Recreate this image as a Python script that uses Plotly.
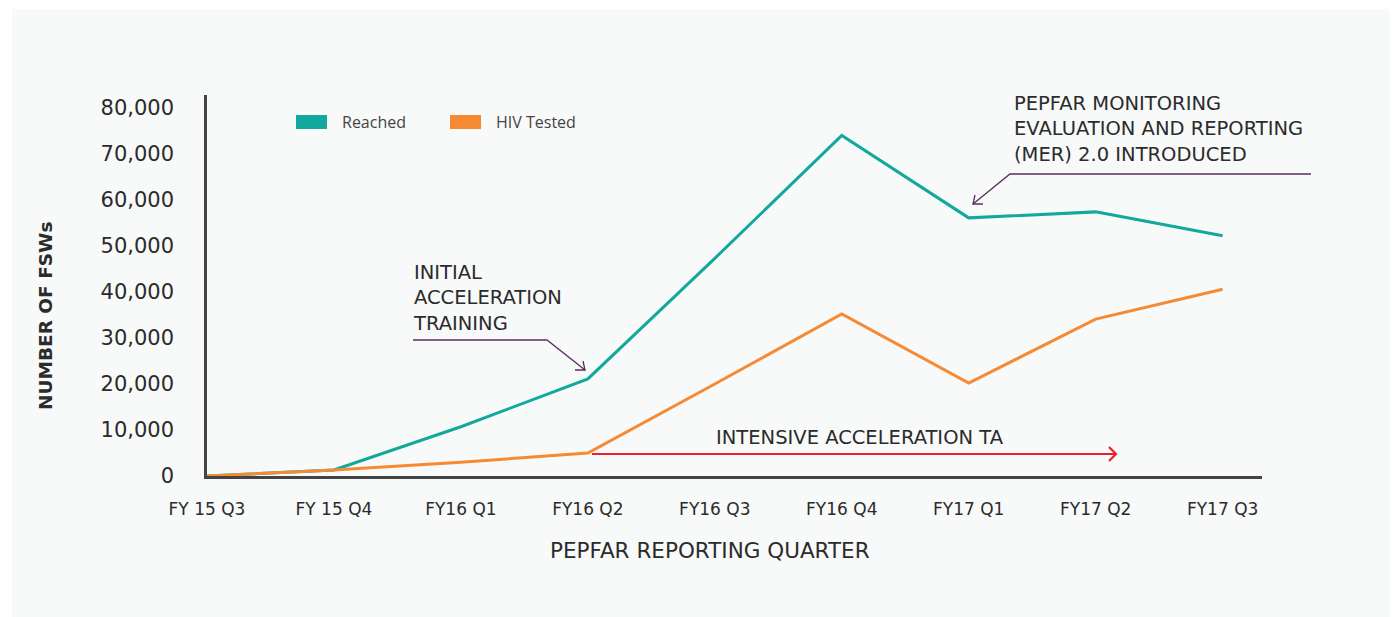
import plotly.graph_objects as go

quarters = ["FY 15 Q3", "FY 15 Q4", "FY16 Q1", "FY16 Q2", "FY16 Q3",
            "FY16 Q4", "FY17 Q1", "FY17 Q2", "FY17 Q3"]
reached = [0, 1300, 10700, 21100, 47300, 74000, 56100, 57400, 52200]
hiv_tested = [0, 1300, 3000, 5000, 20000, 35200, 20200, 34100, 40600]
y_ticks = [0, 10000, 20000, 30000, 40000, 50000, 60000, 70000, 80000]

TEAL = "#12a89d"
ORANGE = "#f68a33"
PURPLE = "#5a2d62"
RED = "#ec1f2c"
TEXT = "#2b2b2b"
FONT = "'DejaVu Sans', sans-serif"

# the page body adds 8px, so the figure is 1392x609 and sits at (8, 8)
# plot area in screen pixels: x 207..1262, y 95..476
W, H = 1055, 381


def px(x):
    return (x - 207) / W


def py(y):
    return (476 - y) / H


def path(points):
    return "M " + " L ".join(f"{px(x):.5f},{py(y):.5f}" for x, y in points)


fig = go.Figure()
fig.add_trace(go.Scatter(x=quarters, y=reached, mode="lines", name="Reached",
                         line=dict(color=TEAL, width=3), showlegend=False))
fig.add_trace(go.Scatter(x=quarters, y=hiv_tested, mode="lines", name="HIV Tested",
                         line=dict(color=ORANGE, width=3), showlegend=False))

shapes = [
    # grey panel behind everything
    dict(type="rect", xref="paper", yref="paper", x0=px(12), x1=px(1390), y0=py(620), y1=py(9),
         fillcolor="#f8f9f9", line_width=0, layer="below"),
    # legend swatches
    dict(type="rect", xref="paper", yref="paper", x0=px(296), x1=px(327), y0=py(129), y1=py(115),
         fillcolor=TEAL, line_width=0),
    dict(type="rect", xref="paper", yref="paper", x0=px(450), x1=px(481), y0=py(129), y1=py(115),
         fillcolor=ORANGE, line_width=0),
    # callout leaders with open arrowheads
    dict(type="path", xref="paper", yref="paper",
         path=path([(413, 340), (547, 340), (585, 370)]), line=dict(color=PURPLE, width=1.3)),
    dict(type="path", xref="paper", yref="paper",
         path=path([(583, 361), (585, 370), (575, 370)]), line=dict(color=PURPLE, width=1.3)),
    dict(type="path", xref="paper", yref="paper",
         path=path([(1311, 174), (1010, 174), (973, 204)]), line=dict(color=PURPLE, width=1.3)),
    dict(type="path", xref="paper", yref="paper",
         path=path([(983, 204), (973, 204), (975, 195)]), line=dict(color=PURPLE, width=1.3)),
    # red arrow for intensive TA
    dict(type="path", xref="paper", yref="paper",
         path=path([(592, 454), (1116, 454)]), line=dict(color=RED, width=2.2)),
    dict(type="path", xref="paper", yref="paper",
         path=path([(1109, 447), (1116, 454), (1109, 461)]), line=dict(color=RED, width=2.2)),
]

annotations = [
    dict(xref="paper", yref="paper", x=px(340), y=py(122), text="Reached", showarrow=False,
         xanchor="left", yanchor="middle", font=dict(size=16, color="#444", family="Open Sans")),
    dict(xref="paper", yref="paper", x=px(494), y=py(122), text="HIV Tested", showarrow=False,
         xanchor="left", yanchor="middle", font=dict(size=16, color="#444", family="Open Sans")),
    dict(xref="paper", yref="paper", x=px(411), y=py(298), text="INITIAL<br>ACCELERATION<br>TRAINING",
         showarrow=False, xanchor="left", align="left", yanchor="middle",
         font=dict(size=19.5, color=TEXT, family=FONT)),
    dict(xref="paper", yref="paper", x=px(1012), y=py(129),
         text="PEPFAR MONITORING<br>EVALUATION AND REPORTING<br>(MER) 2.0 INTRODUCED",
         showarrow=False, xanchor="left", align="left", yanchor="middle",
         font=dict(size=19.5, color=TEXT, family=FONT)),
    dict(xref="paper", yref="paper", x=px(860), y=py(437), text="INTENSIVE ACCELERATION TA",
         showarrow=False, xanchor="center", yanchor="middle",
         font=dict(size=19.5, color=TEXT, family=FONT)),
    # axis titles, placed by hand since both sit off the plot centre
    dict(xref="paper", yref="paper", x=px(710), y=py(550), text="PEPFAR REPORTING QUARTER",
         showarrow=False, xanchor="center", yanchor="middle",
         font=dict(size=21.5, color=TEXT, family=FONT)),
    dict(xref="paper", yref="paper", x=px(45), y=py(316), text="<b>NUMBER OF FSWs</b>",
         showarrow=False, xanchor="center", yanchor="middle", textangle=-90,
         font=dict(size=18.5, color=TEXT, family=FONT)),
]

fig.update_layout(
    width=1392, height=609,
    margin=dict(l=199, r=138, t=87, b=141),
    paper_bgcolor="white",
    plot_bgcolor="rgba(0,0,0,0)",
    font=dict(family=FONT, color=TEXT),
    shapes=shapes,
    annotations=annotations,
)
fig.update_xaxes(
    type="category", categoryorder="array", categoryarray=quarters,
    range=[0, 8.31], showgrid=False, zeroline=False,
    showline=True, linecolor="#444", linewidth=2.5,
    ticks="", ticklabelstandoff=16, tickfont=dict(size=17, family=FONT, color=TEXT),
)
fig.update_yaxes(
    range=[0, 82800], tickvals=y_ticks, tickformat=",", showgrid=False, zeroline=False,
    showline=True, linecolor="#444", linewidth=2.5,
    ticks="", ticklabelstandoff=26, tickfont=dict(size=21, family=FONT, color=TEXT),
)

fig.write_html("out.html")
